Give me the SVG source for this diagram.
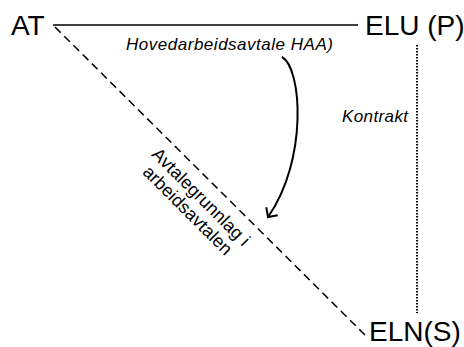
<svg xmlns="http://www.w3.org/2000/svg" width="464" height="347" viewBox="0 0 464 347">
  <style>
    .node { font-family: "Liberation Sans", Arial, sans-serif; font-size: 28px; fill: #000; }
    .lbl { font-family: "Liberation Sans", Arial, sans-serif; font-size: 17px; font-style: italic; fill: #000; }
    .rot { font-family: "Liberation Sans", Arial, sans-serif; font-size: 18px; fill: #000; text-anchor: middle; }
    .solid { stroke: #000; stroke-width: 1.5; fill: none; }
    .dashed { stroke: #000; stroke-width: 1.5; fill: none; stroke-dasharray: 8 5; }
    .dotted { stroke: #000; stroke-width: 2; fill: none; stroke-dasharray: 1.5 1.5; }
    .curve { stroke: #000; stroke-width: 2; fill: none; }
  </style>
  <defs>
    <marker id="openArrow" viewBox="-12 -10 14 20" markerWidth="14" markerHeight="20" refX="0" refY="0" orient="auto" markerUnits="userSpaceOnUse">
      <path d="M-7,-7 L0,0 L-7,7" stroke="#000" stroke-width="2" fill="none"/>
    </marker>
  </defs>

  <g id="connectors">
    <line class="solid" x1="53" y1="25" x2="358" y2="25"/>
    <line class="dashed" x1="55" y1="27" x2="365" y2="335"/>
    <line class="dotted" x1="417" y1="45" x2="417" y2="313"/>
    <path class="curve" d="M282,57 C302,68 308,160 268,217" marker-end="url(#openArrow)"/>
  </g>

  <g id="node-at">
    <text class="node" x="11" y="35">AT</text>
  </g>
  <g id="node-elu">
    <text class="node" x="365" y="35">ELU (P)</text>
  </g>
  <g id="node-eln">
    <text class="node" x="369" y="341">ELN(S)</text>
  </g>

  <g id="labels">
    <text class="lbl" x="126" y="50" textLength="207">Hovedarbeidsavtale HAA)</text>
    <text class="lbl" x="342" y="122" textLength="66">Kontrakt</text>
    <g transform="translate(194,204) rotate(45)">
      <text class="rot" x="0" y="-4" textLength="130">Avtalegrunnlag i</text>
      <text class="rot" x="0" y="15" textLength="118">arbeidsavtalen</text>
    </g>
  </g>
</svg>
